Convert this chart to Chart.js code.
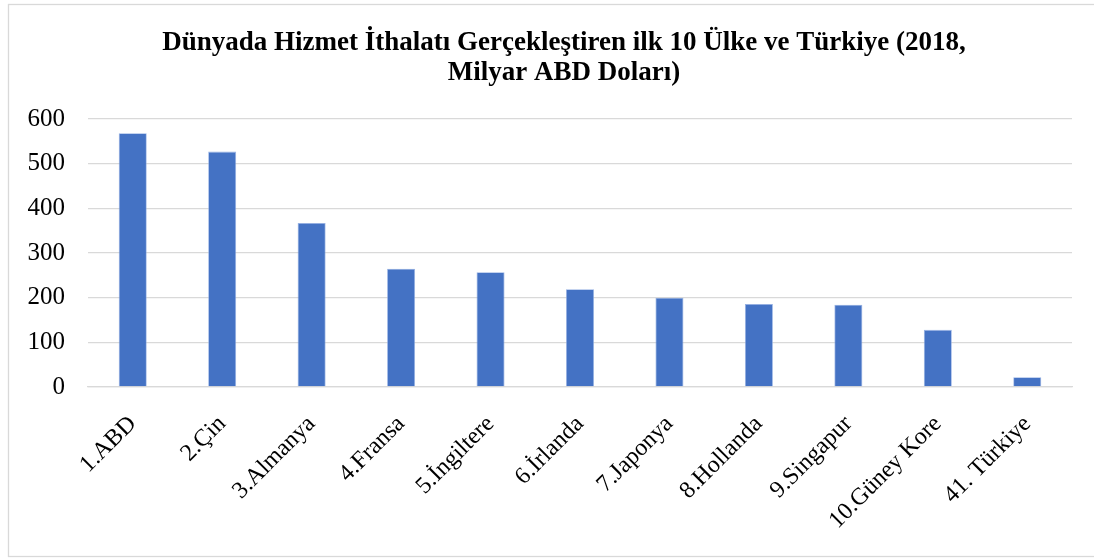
<!DOCTYPE html>
<html>
<head>
<meta charset="utf-8">
<script src="https://cdn.jsdelivr.net/npm/chart.js@4"></script>
<style>
html,body{margin:0;padding:0;background:#fff;}
#wrap{width:1094px;height:558px;position:relative;}
</style>
</head>
<body>
<div id="wrap"><canvas id="c" width="1094" height="558"></canvas></div>
<script>
const titleLines = ["Dünyada Hizmet İthalatı Gerçekleştiren ilk 10 Ülke ve Türkiye (2018,", "Milyar ABD Doları)"];
const categories = ["1.ABD", "2.Çin", "3.Almanya", "4.Fransa", "5.İngiltere", "6.İrlanda", "7.Japonya", "8.Hollanda", "9.Singapur", "10.Güney Kore", "41. Türkiye"];
const values = [568, 527, 367, 265, 257, 219, 200, 186, 184, 128, 22];
const yTicks = [0, 100, 200, 300, 400, 500, 600];

const serif = '"Liberation Serif", "Times New Roman", serif';

const frameAndTitle = {
  id: 'frameAndTitle',
  beforeDraw(chart) {
    const ctx = chart.ctx;
    ctx.save();
    ctx.fillStyle = '#fff';
    ctx.fillRect(0, 0, chart.width, chart.height);
    ctx.strokeStyle = '#d9d9d9';
    ctx.lineWidth = 1.3;
    ctx.strokeRect(8.5, 4.5, 1200, 552);
    ctx.restore();
  },
  afterDraw(chart) {
    const ctx = chart.ctx;
    ctx.save();
    ctx.fillStyle = '#000';
    ctx.font = 'bold 27px ' + serif;
    ctx.textAlign = 'center';
    ctx.textBaseline = 'alphabetic';
    ctx.fillText(titleLines[0], 564, 50);
    ctx.fillText(titleLines[1], 564, 80);
    ctx.restore();
  }
};

new Chart(document.getElementById('c'), {
  type: 'bar',
  data: {
    labels: categories,
    datasets: [{
      data: values,
      backgroundColor: '#4472C4',
      borderColor: 'rgba(140,170,225,0.9)',
      borderWidth: 0.8,
      barPercentage: 0.313,
      categoryPercentage: 1.0
    }]
  },
  options: {
    responsive: false,
    animation: false,
    devicePixelRatio: 1,
    layout: { padding: { top: 119, right: 22, left: 0, bottom: 0 } },
    plugins: { legend: { display: false }, tooltip: { enabled: false }, title: { display: false } },
    scales: {
      x: {
        grid: { display: false, drawTicks: false },
        border: { display: true, color: '#d9d9d9', width: 1.3 },
        ticks: {
          color: '#000',
          font: { family: serif, size: 24 },
          maxRotation: 45,
          minRotation: 45,
          padding: 23,
          autoSkip: false
        },
        afterFit(scale) { scale.height = 171; }
      },
      y: {
        min: 0,
        max: 600,
        afterBuildTicks(scale) { scale.ticks = yTicks.map(v => ({ value: v })); },
        grid: { color: '#d9d9d9', lineWidth: 1.3, drawTicks: false },
        border: { display: false },
        ticks: {
          color: '#000',
          font: { family: serif, size: 25 },
          padding: 23
        },
        afterFit(scale) { scale.width = 88; }
      }
    }
  },
  plugins: [frameAndTitle]
});
</script>
</body>
</html>
